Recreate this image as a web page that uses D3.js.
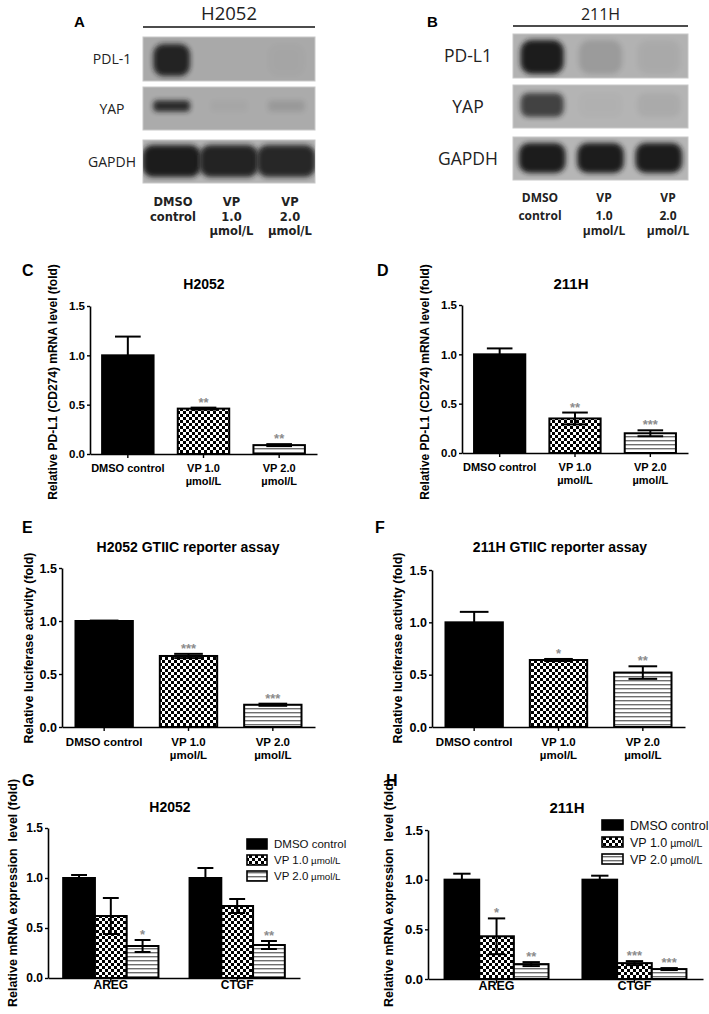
<!DOCTYPE html>
<html><head><meta charset="utf-8">
<script src="https://cdn.jsdelivr.net/npm/d3@7"></script>
<style>body{margin:0;background:#fff} svg{display:block}</style>
</head><body><svg id="c" width="709" height="1014"></svg>
<script>
// ---------------- DATA ----------------
const blotLanes = ["DMSO control", "VP 1.0 µmol/L", "VP 2.0 µmol/L"];
const blotLaneLines = [["DMSO", "control"], ["VP", "1.0", "µmol/L"], ["VP", "2.0", "µmol/L"]];
const blotProteinsA = ["PDL-1", "YAP", "GAPDH"];
const blotProteinsB = ["PD-L1", "YAP", "GAPDH"];
const blotA_PDL1 = [0.95, 0.0, 0.02];
const blotA_YAP = [0.9, 0.03, 0.12];
const blotA_GAPDH = [1.0, 0.95, 0.92];
const blotB_PDL1 = [1.0, 0.15, 0.05];
const blotB_YAP = [0.75, 0.02, 0.06];
const blotB_GAPDH = [1.0, 1.0, 1.0];

const treatments = ["DMSO control", "VP 1.0 µmol/L", "VP 2.0 µmol/L"];
const treatmentLabels = [["DMSO control"], ["VP 1.0", "µmol/L"], ["VP 2.0", "µmol/L"]];
const yTicks = [0, 0.5, 1.0, 1.5];

const cMean = [1.00, 0.46, 0.09], cSem = [0.19, 0.01, 0.01], cSig = ["", "**", "**"];
const dMean = [1.00, 0.35, 0.20], dSem = [0.06, 0.06, 0.03], dSig = ["", "**", "***"];
const eMean = [1.00, 0.67, 0.21], eSem = [0.004, 0.02, 0.01], eSig = ["", "***", "***"];
const fMean = [1.00, 0.64, 0.52], fSem = [0.10, 0.01, 0.06], fSig = ["", "*", "**"];

const genes = ["AREG", "CTGF"];
const gAREG = [1.00, 0.62, 0.32], gAREGsem = [0.03, 0.18, 0.06], gAREGsig = ["", "", "*"];
const gCTGF = [1.00, 0.72, 0.33], gCTGFsem = [0.10, 0.07, 0.04], gCTGFsig = ["", "", "**"];
const hAREG = [1.00, 0.43, 0.15], hAREGsem = [0.06, 0.18, 0.02], hAREGsig = ["", "*", "**"];
const hCTGF = [1.00, 0.16, 0.10], hCTGFsem = [0.04, 0.02, 0.01], hCTGFsig = ["", "***", "***"];

// ---------------- SETUP ----------------
const svg = d3.select("#c");
const defs = svg.append("defs");
const ck = defs.append("pattern").attr("id", "checker").attr("width", 6).attr("height", 6).attr("patternUnits", "userSpaceOnUse");
ck.append("rect").attr("width", 6).attr("height", 6).attr("fill", "#fff");
ck.append("rect").attr("width", 3).attr("height", 3).attr("fill", "#000");
ck.append("rect").attr("x", 3).attr("y", 3).attr("width", 3).attr("height", 3).attr("fill", "#000");
const st = defs.append("pattern").attr("id", "stripes").attr("width", 4).attr("height", 4).attr("patternUnits", "userSpaceOnUse");
st.append("rect").attr("width", 4).attr("height", 4).attr("fill", "#fff");
st.append("rect").attr("width", 4).attr("height", 1.4).attr("fill", "#6e6e6e");
defs.append("filter").attr("id", "blur").attr("x", "-50%").attr("y", "-50%").attr("width", "200%").attr("height", "200%")
  .append("feGaussianBlur").attr("stdDeviation", 2.6);
const fills = ["#000", "url(#checker)", "url(#stripes)"];
const ARIAL = "'Liberation Sans', Arial, sans-serif";
const OPEN = "'Open Sans', 'DejaVu Sans', sans-serif";

function txt(g, x, y, s, size, weight, anchor, family, fill) {
  return g.append("text").attr("x", x).attr("y", y).text(s)
    .attr("font-size", size).attr("font-weight", weight || "normal")
    .attr("text-anchor", anchor || "start").attr("font-family", family || ARIAL)
    .attr("fill", fill || "#000");
}

// ---------------- BLOTS ----------------
function drawBlot(cfg) {
  const g = svg.append("g");
  txt(g, cfg.letter[0], cfg.letter[1], cfg.letter[2], 15, "bold", "start", ARIAL);
  txt(g, (cfg.x0 + cfg.x1) / 2, cfg.headerY, cfg.header, cfg.headerSize, "normal", "middle", OPEN, "#222");
  g.append("line").attr("x1", cfg.x0).attr("x2", cfg.x1).attr("y1", cfg.lineY).attr("y2", cfg.lineY)
    .attr("stroke", "#111").attr("stroke-width", 1.3);
  const lx = d3.scaleBand().domain(blotLanes).range([cfg.x0, cfg.x1]);
  cfg.rows.forEach((row, ri) => {
    const cid = cfg.id + "clip" + ri;
    defs.append("clipPath").attr("id", cid).append("rect")
      .attr("x", cfg.x0).attr("y", row.y0).attr("width", cfg.x1 - cfg.x0).attr("height", row.y1 - row.y0);
    g.append("rect").attr("x", cfg.x0).attr("y", row.y0).attr("width", cfg.x1 - cfg.x0).attr("height", row.y1 - row.y0)
      .attr("fill", row.bg).attr("stroke", "#c8c8c8").attr("stroke-width", 1);
    const bg = g.append("g").attr("clip-path", `url(#${cid})`);
    bg.selectAll("rect.band").data(row.values).join("rect")
      .attr("x", (d, i) => lx(blotLanes[i]) + lx.bandwidth() * (1 - row.wFrac) / 2)
      .attr("y", row.cy - row.h / 2)
      .attr("width", lx.bandwidth() * row.wFrac)
      .attr("height", row.h)
      .attr("rx", row.h / 3)
      .attr("fill", "#1c1c1c").attr("opacity", d => d)
      .attr("filter", "url(#blur)");
    txt(g, cfg.labelX, (row.y0 + row.y1) / 2 + cfg.labelSize * 0.36, cfg.proteins[ri], cfg.labelSize, "normal", "middle", OPEN, "#222");
  });
  const px = d3.scalePoint().domain(blotLanes).range(cfg.laneLabelRange);
  blotLanes.forEach((l, i) => {
    blotLaneLines[i].forEach((s, j) => {
      txt(g, px(l), cfg.laneY[j], s, cfg.laneSize, cfg.laneWeight, "middle", cfg.laneFamily, "#222");
    });
  });
}

drawBlot({
  id: "A", letter: [74, 27, "A"], header: "H2052", headerY: 20, headerSize: 18.5, lineY: 27, x0: 143, x1: 315,
  labelX: 112, labelSize: 14, proteins: blotProteinsA,
  rows: [
    { y0: 37, y1: 81, bg: "#a9a9a9", values: blotA_PDL1, cy: 60, h: 32, wFrac: 0.64 },
    { y0: 87, y1: 130, bg: "#ababab", values: blotA_YAP, cy: 106, h: 11, wFrac: 0.64 },
    { y0: 140, y1: 183, bg: "#b4b4b4", values: blotA_GAPDH, cy: 161, h: 32, wFrac: 1.02 }
  ],
  laneLabelRange: [173, 290], laneY: [206, 221, 235], laneSize: 11.5, laneWeight: "bold", laneFamily: "'DejaVu Sans', sans-serif"
});
drawBlot({
  id: "B", letter: [427, 27, "B"], header: "211H", headerY: 20, headerSize: 16, lineY: 26, x0: 513, x1: 688,
  labelX: 468, labelSize: 17.5, proteins: blotProteinsB,
  rows: [
    { y0: 34, y1: 78, bg: "#b2b2b2", values: blotB_PDL1, cy: 57, h: 34, wFrac: 0.74 },
    { y0: 85, y1: 128, bg: "#b4b4b4", values: blotB_YAP, cy: 105, h: 24, wFrac: 0.74 },
    { y0: 137, y1: 180, bg: "#b6b6b6", values: blotB_GAPDH, cy: 158, h: 30, wFrac: 0.8 }
  ],
  laneLabelRange: [540, 668], laneY: [202, 220, 235], laneSize: 12, laneWeight: "bold", laneFamily: OPEN
});

// ---------------- BAR CHART HELPERS ----------------
function yAxis(g, y, x0, size) {
  const a = g.append("g").attr("transform", `translate(${x0},0)`)
    .call(d3.axisLeft(y).tickValues(yTicks).tickFormat(d3.format(".1f")).tickSize(3).tickSizeOuter(0).tickPadding(2));
  a.select(".domain").attr("stroke-width", 1.6);
  a.selectAll(".tick line").attr("stroke-width", 1.4);
  a.selectAll(".tick text").attr("font-size", size).attr("font-weight", "bold").attr("font-family", ARIAL);
}
function xAxis(g, x, yBase) {
  const a = g.append("g").attr("transform", `translate(0,${yBase})`)
    .call(d3.axisBottom(x).tickSize(4).tickSizeOuter(0).tickFormat(""));
  a.select(".domain").attr("stroke-width", 1.6);
  a.selectAll(".tick line").attr("stroke-width", 1.4);
}
function bars(g, x0, bw, y, means, sems, sigs, starSize) {
  means.forEach((m, i) => {
    const bx = x0(i);
    g.append("rect").attr("x", bx).attr("y", y(m)).attr("width", bw).attr("height", y(0) - y(m))
      .attr("fill", fills[i]).attr("stroke", "#000").attr("stroke-width", 2);
    const cx = bx + bw / 2, cap = bw / 4;
    const top = y(m + sems[i]), bot = y(Math.max(0, m - sems[i]));
    g.append("line").attr("x1", cx).attr("x2", cx).attr("y1", top).attr("y2", bot).attr("stroke", "#000").attr("stroke-width", 2);
    [top, bot].forEach(v => g.append("line").attr("x1", cx - cap).attr("x2", cx + cap).attr("y1", v).attr("y2", v)
      .attr("stroke", "#000").attr("stroke-width", 2));
    if (sigs[i]) txt(g, cx, top - 1, sigs[i], starSize, "bold", "middle", ARIAL, "#8c8c8c");
  });
}
function frame(g, cfg) {
  txt(g, cfg.letter[0], cfg.letter[1], cfg.letter[2], 16, "bold", "start", ARIAL);
  txt(g, cfg.titleX, cfg.titleY, cfg.title, cfg.titleSize, "bold", "middle", ARIAL);
  g.append("text").attr("transform", `translate(${cfg.ylabX},${cfg.ylabY}) rotate(-90)`)
    .attr("text-anchor", "middle").attr("font-size", cfg.ylabSize).attr("font-weight", "bold")
    .attr("font-family", ARIAL).style("white-space", "pre").text(cfg.ylab);
}

function drawSimple(cfg) {
  const g = svg.append("g");
  frame(g, cfg);
  const x = d3.scaleBand().domain(treatments).range([cfg.x0, cfg.x1]).paddingInner(0.32).paddingOuter(0.16);
  const y = d3.scaleLinear().domain([0, 1.5]).range([cfg.yBase, cfg.yTop]);
  bars(g, i => x(treatments[i]), x.bandwidth(), y, cfg.mean, cfg.sem, cfg.sig, cfg.starSize);
  yAxis(g, y, cfg.x0, cfg.tickSize);
  xAxis(g, x, cfg.yBase);
  treatments.forEach((t, i) => treatmentLabels[i].forEach((s, j) =>
    txt(g, x(t) + x.bandwidth() / 2, cfg.yBase + cfg.labOff + j * 13, s, cfg.labSize, "bold", "middle", ARIAL)));
}

function drawGrouped(cfg) {
  const g = svg.append("g");
  frame(g, cfg);
  const x = d3.scaleBand().domain(genes).range([cfg.x0, cfg.x1]).paddingInner(0.246).paddingOuter(0.12);
  const xi = d3.scaleBand().domain(treatments).range([0, x.bandwidth()]);
  const y = d3.scaleLinear().domain([0, 1.5]).range([cfg.yBase, cfg.yTop]);
  cfg.groups.forEach((grp, gi) => {
    bars(g, i => x(genes[gi]) + xi(treatments[i]), xi.bandwidth(), y, grp.mean, grp.sem, grp.sig, cfg.starSize);
  });
  yAxis(g, y, cfg.x0, cfg.tickSize);
  xAxis(g, x, cfg.yBase);
  genes.forEach(gn => txt(g, x(gn) + x.bandwidth() / 2, cfg.yBase + cfg.labOff, gn, cfg.labSize, "bold", "middle", ARIAL));
  // legend
  const ly = d3.scalePoint().domain(treatments).range(cfg.legY);
  treatments.forEach((t, i) => {
    g.append("rect").attr("x", cfg.legX).attr("y", ly(t) - 5).attr("width", cfg.legW).attr("height", 10)
      .attr("fill", fills[i]).attr("stroke", "#000").attr("stroke-width", 1.6);
    const parts = t.split(" µmol/L");
    const tx = txt(g, cfg.legX + cfg.legW + 7, ly(t) + cfg.legSize * 0.36, parts[0], cfg.legSize, "normal", "start", ARIAL, "#111");
    if (parts.length > 1) tx.append("tspan").attr("font-size", cfg.legSize * 0.85).text(" µmol/L");
  });
}

// ---------------- PANELS ----------------
drawSimple({
  letter: [22, 276, "C"], title: "H2052", titleX: 204, titleY: 289, titleSize: 14,
  ylab: "Relative PD-L1 (CD274) mRNA level (fold)", ylabX: 57, ylabY: 382, ylabSize: 12,
  x0: 90, x1: 317, yBase: 454, yTop: 306, mean: cMean, sem: cSem, sig: cSig,
  tickSize: 11.5, labOff: 18, labSize: 11, starSize: 13
});
drawSimple({
  letter: [377, 276, "D"], title: "211H", titleX: 571, titleY: 289, titleSize: 15,
  ylab: "Relative PD-L1 (CD274) mRNA level (fold)", ylabX: 429, ylabY: 382, ylabSize: 12,
  x0: 462, x1: 688, yBase: 453, yTop: 305, mean: dMean, sem: dSem, sig: dSig,
  tickSize: 11.5, labOff: 18, labSize: 11, starSize: 13
});
drawSimple({
  letter: [22, 533, "E"], title: "H2052 GTIIC reporter assay", titleX: 188, titleY: 552, titleSize: 14,
  ylab: "Relative luciferase activity (fold)", ylabX: 33, ylabY: 648, ylabSize: 12.5,
  x0: 62, x1: 315, yBase: 727, yTop: 568, mean: eMean, sem: eSem, sig: eSig,
  tickSize: 12.5, labOff: 19, labSize: 11.5, starSize: 13
});
drawSimple({
  letter: [375, 533, "F"], title: "211H GTIIC reporter assay", titleX: 560, titleY: 552, titleSize: 14,
  ylab: "Relative luciferase activity (fold)", ylabX: 402, ylabY: 648, ylabSize: 12.5,
  x0: 432, x1: 685, yBase: 727, yTop: 570, mean: fMean, sem: fSem, sig: fSig,
  tickSize: 12.5, labOff: 19, labSize: 11.5, starSize: 13
});
drawGrouped({
  letter: [22, 786, "G"], title: "H2052", titleX: 170, titleY: 812, titleSize: 14,
  ylab: "Relative mRNA expression  level (fold)", ylabX: 17, ylabY: 893, ylabSize: 12.5,
  x0: 48, x1: 300, yBase: 978, yTop: 828,
  groups: [{ mean: gAREG, sem: gAREGsem, sig: gAREGsig }, { mean: gCTGF, sem: gCTGFsem, sig: gCTGFsig }],
  tickSize: 12, labOff: 11, labSize: 12, starSize: 13,
  legX: 247, legW: 20, legY: [844, 876], legSize: 11.5
});
drawGrouped({
  letter: [386, 786, "H"], title: "211H", titleX: 567, titleY: 813, titleSize: 15,
  ylab: "Relative mRNA expression  level (fold)", ylabX: 393, ylabY: 893, ylabSize: 12.5,
  x0: 428, x1: 703, yBase: 979, yTop: 830,
  groups: [{ mean: hAREG, sem: hAREGsem, sig: hAREGsig }, { mean: hCTGF, sem: hCTGFsem, sig: hCTGFsig }],
  tickSize: 13, labOff: 11, labSize: 12.5, starSize: 13,
  legX: 602, legW: 21, legY: [825, 859], legSize: 12.5
});
</script></body></html>
